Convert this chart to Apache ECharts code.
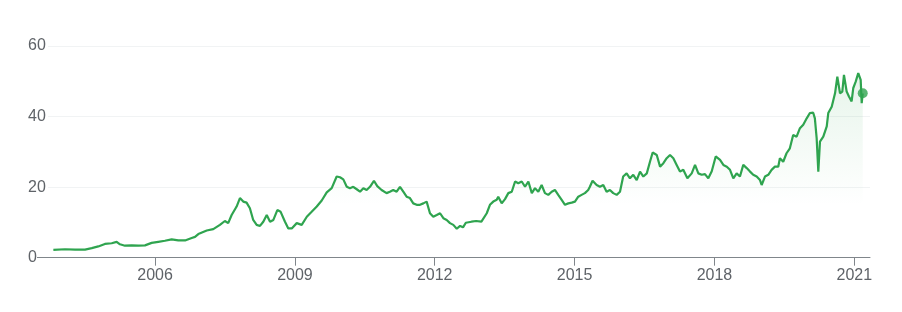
<!DOCTYPE html>
<html>
<head>
<meta charset="utf-8">
<script src="https://cdn.jsdelivr.net/npm/echarts@6/dist/echarts.min.js"></script>
<style>
html,body{margin:0;padding:0;background:#fff;}
#chart{width:902px;height:312px;}
</style>
</head>
<body>
<div id="chart"></div>
<script>
var dates = [
'2003-10-27','2004-01-26','2004-04-14','2004-07-01','2004-08-23','2004-10-13','2004-12-04','2005-01-26','2005-03-06','2005-04-01',
'2005-05-10','2005-07-02','2005-08-23','2005-10-14','2005-12-05','2006-01-26','2006-03-19','2006-05-11','2006-07-02','2006-08-24',
'2006-10-15','2006-11-10','2006-12-06','2007-02-10','2007-04-02','2007-05-24','2007-07-02','2007-07-28','2007-08-24','2007-10-02',
'2007-10-28','2007-11-23','2007-12-19','2008-01-14','2008-02-09','2008-03-07','2008-04-02','2008-04-28','2008-05-25','2008-06-20',
'2008-07-16','2008-08-16','2008-09-11','2008-10-15','2008-11-10','2008-12-07','2009-01-15','2009-02-23','2009-04-04','2009-05-12',
'2009-06-21','2009-07-30','2009-09-07','2009-10-16','2009-11-24','2009-12-20','2010-01-15','2010-02-11','2010-03-08','2010-04-03',
'2010-04-30','2010-05-26','2010-06-21','2010-07-17','2010-08-12','2010-09-12','2010-10-08','2010-11-11','2010-12-20','2011-01-15',
'2011-02-10','2011-03-09','2011-04-04','2011-04-30','2011-05-26','2011-06-21','2011-07-17','2011-08-13','2011-09-08','2011-10-04',
'2011-10-30','2011-11-25','2011-12-21','2012-01-17','2012-02-12','2012-03-09','2012-04-04','2012-04-30','2012-05-26','2012-06-22',
'2012-07-18','2012-08-10','2012-09-01','2012-10-15','2012-11-20','2013-01-01','2013-02-12','2013-03-09','2013-04-04','2013-05-01',
'2013-05-13','2013-06-09','2013-07-05','2013-07-31','2013-08-27','2013-09-22','2013-10-17','2013-11-13','2013-12-09','2014-01-04',
'2014-01-31','2014-02-25','2014-03-23','2014-04-18','2014-05-14','2014-06-09','2014-07-06','2014-07-31','2014-08-26','2014-09-22',
'2014-10-18','2014-11-13','2014-12-10','2015-01-04','2015-01-30','2015-02-25','2015-03-23','2015-04-18','2015-05-01','2015-05-22',
'2015-06-23','2015-07-19','2015-08-14','2015-09-09','2015-10-05','2015-10-31','2015-11-27','2015-12-23','2016-01-17','2016-02-13',
'2016-03-10','2016-04-05','2016-05-02','2016-05-28','2016-06-23','2016-07-20','2016-08-14','2016-09-04','2016-10-06','2016-11-01',
'2016-11-27','2016-12-23','2017-01-18','2017-02-13','2017-03-11','2017-04-06','2017-05-02','2017-06-03','2017-07-07','2017-08-02',
'2017-08-28','2017-09-23','2017-10-19','2017-11-14','2017-12-11','2018-01-11','2018-02-14','2018-03-12','2018-04-08','2018-05-03',
'2018-05-29','2018-06-24','2018-07-20','2018-08-15','2018-09-11','2018-10-07','2018-11-01','2018-11-28','2018-12-24','2019-01-06',
'2019-02-01','2019-02-27','2019-03-25','2019-04-20','2019-05-16','2019-05-29','2019-06-24','2019-07-20','2019-08-15','2019-09-10',
'2019-10-07','2019-11-02','2019-11-28','2019-12-25','2020-01-19','2020-02-14','2020-02-27','2020-03-12','2020-03-25','2020-04-07',
'2020-05-03','2020-05-30','2020-06-11','2020-07-08','2020-08-03','2020-08-21','2020-09-11','2020-09-29','2020-10-12','2020-11-02',
'2020-11-20','2020-12-11','2020-12-24','2021-01-12','2021-02-01','2021-02-20','2021-02-28','2021-03-08'
];
var prices = [
2.2,2.4,2.3,2.3,2.7,3.2,3.9,4.1,4.5,3.8,
3.4,3.5,3.4,3.5,4.2,4.5,4.8,5.2,4.9,4.9,
5.6,5.9,6.7,7.7,8.1,9.3,10.4,9.8,12.1,14.5,
16.9,15.9,15.6,14.0,10.7,9.3,9.0,10.2,12.1,10.2,
10.7,13.5,13.0,10.2,8.3,8.3,9.8,9.3,11.6,13.0,
14.5,16.2,18.5,19.7,23.0,22.8,22.2,20.1,19.7,20.1,
19.4,18.7,19.7,19.2,20.1,21.8,20.3,19.2,18.3,18.7,
19.2,18.7,20.1,18.7,17.3,16.9,15.4,15.0,15.0,15.4,
15.9,12.6,11.6,12.1,12.6,11.2,10.7,9.8,9.3,8.2,
9.0,8.6,9.9,10.2,10.4,10.2,12.6,15.0,15.9,16.4,
17.3,15.4,16.6,18.3,18.7,21.6,21.1,21.6,20.1,21.6,
18.3,19.7,18.7,20.6,18.3,17.8,18.7,19.2,17.8,16.4,
15.0,15.4,15.6,15.9,17.3,17.8,18.3,19.2,20.1,21.8,
20.6,20.1,20.6,18.7,19.2,18.3,17.8,18.7,23.0,23.9,
22.5,23.5,22.0,24.4,23.0,23.9,27.2,29.8,29.1,25.8,
26.8,28.2,29.1,28.2,26.3,24.4,24.9,22.5,23.9,26.3,
23.9,23.5,23.7,22.5,24.5,28.7,27.7,26.3,25.8,24.9,
22.5,23.9,23.0,26.3,25.4,24.4,23.5,23.0,22.0,20.6,
23.0,23.5,24.9,25.8,25.8,28.2,27.2,29.6,31.0,34.8,
34.3,36.7,37.7,39.5,41.0,41.1,39.5,33.9,24.4,32.9,
34.3,37.2,41.0,42.8,46.6,51.3,46.6,47.1,51.8,47.1,
45.7,44.3,48.1,49.9,52.3,50.4,43.8,46.6
];
var yTicks = [0, 20, 40, 60];
var xTickYears = [2006, 2009, 2012, 2015, 2018, 2021];
var xRange = ['2003-09-15', '2021-05-04'];

function toTime(s) {
  var p = s.split('-');
  return Date.UTC(+p[0], +p[1] - 1, +p[2]);
}
var seriesData = dates.map(function (d, i) { return [toTime(d), prices[i]]; });
var lastPoint = seriesData[seriesData.length - 1];
var xTickValues = xTickYears.map(function (y) { return Date.UTC(y, 0, 1); });

var FONT = 'Arial, "Liberation Sans", sans-serif';
var chart = echarts.init(document.getElementById('chart'), null, {renderer: 'canvas'});
chart.setOption({
  animation: false,
  backgroundColor: '#ffffff',
  grid: {left: 48, right: 32, top: 46, bottom: 54.3, containLabel: false},
  xAxis: {
    type: 'value',
    min: toTime(xRange[0]),
    max: toTime(xRange[1]),
    axisLine: {show: true, lineStyle: {color: '#80868b', width: 1}},
    axisTick: {show: true, length: 8, lineStyle: {color: '#80868b'}, customValues: xTickValues},
    axisLabel: {
      customValues: xTickValues,
      color: '#5f6368', fontSize: 16, fontFamily: FONT, margin: 10,
      formatter: function (v) { return String(new Date(v).getUTCFullYear()); }
    },
    splitLine: {show: false}
  },
  yAxis: {
    type: 'value',
    min: yTicks[0], max: yTicks[yTicks.length - 1], interval: 20,
    axisLine: {show: false},
    axisTick: {show: false},
    axisLabel: {color: '#5f6368', fontSize: 16, fontFamily: FONT, align: 'left', margin: 20},
    splitLine: {show: true, lineStyle: {color: '#f1f3f4', width: 1}}
  },
  graphic: [{
    type: 'line', z: 5,
    shape: {x1: 37, y1: 257.5, x2: 48, y2: 257.5},
    style: {stroke: '#80868b', lineWidth: 1}
  }],
  series: [{
    type: 'line',
    data: seriesData,
    showSymbol: false,
    symbol: 'none',
    lineStyle: {color: '#2fa44f', width: 2.2},
    areaStyle: {
      color: new echarts.graphic.LinearGradient(0, 50, 0, 205, [
        {offset: 0, color: 'rgba(52,168,83,0.2)'},
        {offset: 1, color: 'rgba(52,168,83,0)'}
      ], true)
    },
    z: 3
  }, {
    type: 'scatter',
    data: [lastPoint],
    symbol: 'circle',
    symbolSize: 10,
    itemStyle: {color: '#2fa44f'},
    z: 4
  }]
});
</script>
</body>
</html>
